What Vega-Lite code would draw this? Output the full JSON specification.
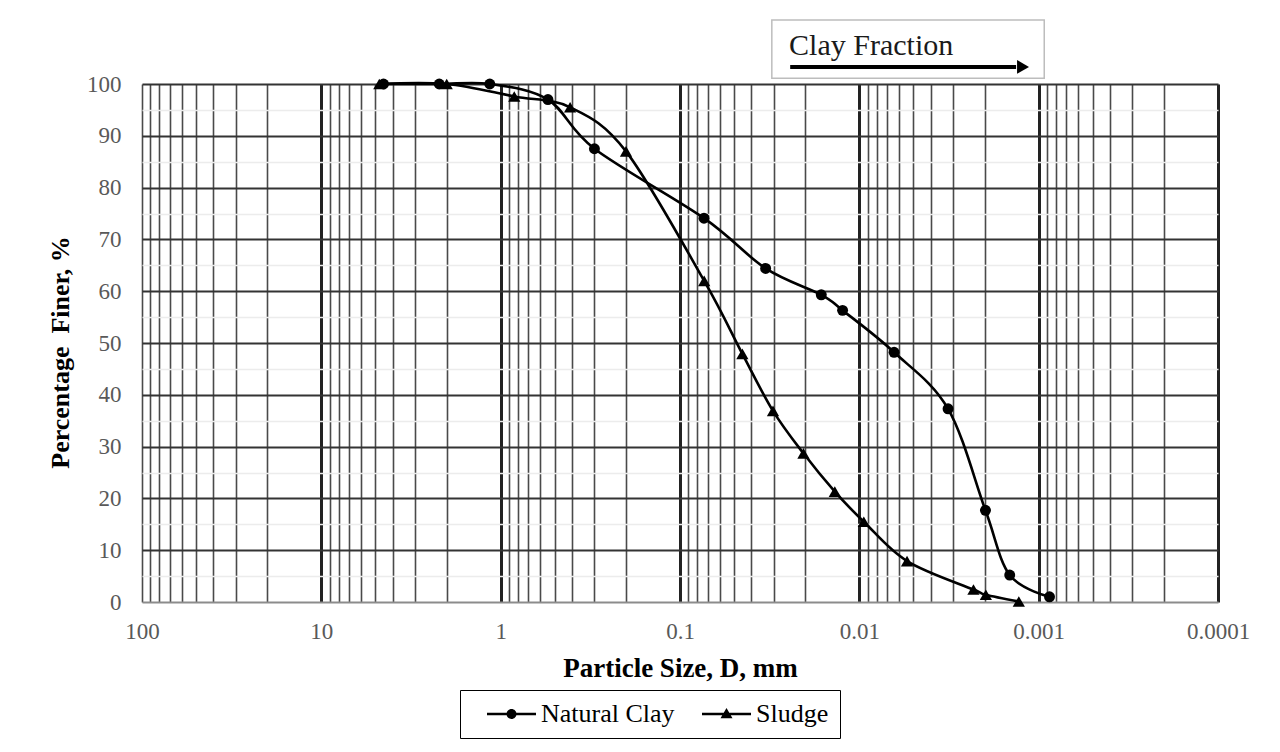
{
  "$schema": "https://vega.github.io/schema/vega-lite/v6.json",
  "width": 1076,
  "height": 518,
  "autosize": {"type": "none"},
  "padding": {"left": 142, "top": 84, "right": 62, "bottom": 150},
  "background": "white",
  "config": {
    "view": {"stroke": null},
    "font": "Liberation Serif"
  },
  "datasets": {
    "gsd": [
      {"series": "Natural Clay", "size": 4.5, "finer": 100},
      {"series": "Natural Clay", "size": 2.2, "finer": 100},
      {"series": "Natural Clay", "size": 1.15, "finer": 100},
      {"series": "Natural Clay", "size": 0.545, "finer": 97},
      {"series": "Natural Clay", "size": 0.3, "finer": 87.5},
      {"series": "Natural Clay", "size": 0.0735, "finer": 74.1},
      {"series": "Natural Clay", "size": 0.0333, "finer": 64.4},
      {"series": "Natural Clay", "size": 0.0163, "finer": 59.3},
      {"series": "Natural Clay", "size": 0.0124, "finer": 56.3},
      {"series": "Natural Clay", "size": 0.0064, "finer": 48.2},
      {"series": "Natural Clay", "size": 0.0032, "finer": 37.3},
      {"series": "Natural Clay", "size": 0.00198, "finer": 17.7},
      {"series": "Natural Clay", "size": 0.00145, "finer": 5.2},
      {"series": "Natural Clay", "size": 0.00087, "finer": 1.0},
      {"series": "Sludge", "size": 4.75, "finer": 100},
      {"series": "Sludge", "size": 2.0, "finer": 100},
      {"series": "Sludge", "size": 0.84, "finer": 97.6},
      {"series": "Sludge", "size": 0.41, "finer": 95.5},
      {"series": "Sludge", "size": 0.2, "finer": 87},
      {"series": "Sludge", "size": 0.0733, "finer": 62},
      {"series": "Sludge", "size": 0.0449, "finer": 47.9},
      {"series": "Sludge", "size": 0.0303, "finer": 36.9},
      {"series": "Sludge", "size": 0.0205, "finer": 28.7},
      {"series": "Sludge", "size": 0.0137, "finer": 21.3},
      {"series": "Sludge", "size": 0.00944, "finer": 15.5},
      {"series": "Sludge", "size": 0.00542, "finer": 7.9},
      {"series": "Sludge", "size": 0.00231, "finer": 2.4},
      {"series": "Sludge", "size": 0.00197, "finer": 1.4},
      {"series": "Sludge", "size": 0.00129, "finer": 0.1}
    ],
    "note": [
      {"label": "Clay Fraction", "size": 0.02464, "finer": 105.6, "boxSize1": 0.03076, "boxSize2": 0.000931, "boxTop": 112.36, "boxBottom": 101.1, "arrowStart": 0.0243, "arrowEnd": 0.001336, "arrowHead": 0.001222, "arrowLevel": 103.3}
    ],
    "legendOnly": []
  },
  "encoding": {
    "x": {
      "field": "size",
      "type": "quantitative",
      "scale": {"type": "log", "domain": [0.0001, 100], "reverse": true, "nice": false},
      "axis": {
        "title": "Particle Size, D, mm",
        "titleFont": "Liberation Serif",
        "titleFontSize": 27,
        "titleFontWeight": "bold",
        "titleColor": "black",
        "titlePadding": 12,
        "values": [0.0001, 0.0002, 0.0003, 0.0004, 0.0005, 0.0006, 0.0007, 0.0008, 0.0009, 0.001, 0.002, 0.003, 0.004, 0.005, 0.006, 0.007, 0.008, 0.009, 0.01, 0.02, 0.03, 0.04, 0.05, 0.06, 0.07, 0.08, 0.09, 0.1, 0.2, 0.3, 0.4, 0.5, 0.6, 0.7, 0.8, 0.9, 1, 2, 3, 4, 5, 6, 7, 8, 9, 10, 20, 30, 40, 50, 60, 70, 80, 90, 100],
        "labelExpr": "abs(log(datum.value)/LN10 - round(log(datum.value)/LN10)) < 0.001 ? format(datum.value, '~g') : ''",
        "labelFont": "Liberation Serif",
        "labelFontSize": 23,
        "labelColor": "#595959",
        "labelPadding": 18,
        "labelOverlap": false,
        "labelFlush": false,
        "ticks": false,
        "domain": false,
        "grid": true,
        "gridColor": {"condition": {"test": "abs(log(datum.value)/LN10 - round(log(datum.value)/LN10)) < 0.001 && datum.value < 50", "value": "#222222"}, "value": "#4a4a4a"},
        "gridWidth": {"condition": {"test": "abs(log(datum.value)/LN10 - round(log(datum.value)/LN10)) < 0.001 && datum.value < 50", "value": 3}, "value": 1.6},
        "gridOpacity": 1
      }
    },
    "y": {
      "field": "finer",
      "type": "quantitative",
      "scale": {"domain": [0, 100], "nice": false, "zero": true},
      "axis": {
        "title": "Percentage\u00a0 Finer, %",
        "titleFont": "Liberation Serif",
        "titleFontSize": 26,
        "titleFontWeight": "bold",
        "titleColor": "black",
        "titlePadding": 13,
        "titleY": 268,
        "values": [0, 5, 10, 15, 20, 25, 30, 35, 40, 45, 50, 55, 60, 65, 70, 75, 80, 85, 90, 95, 100],
        "labelExpr": "datum.value % 10 == 0 ? datum.label : ''",
        "labelFont": "Liberation Serif",
        "labelFontSize": 23,
        "labelColor": "#595959",
        "labelPadding": 21,
        "labelOverlap": false,
        "labelFlush": false,
        "ticks": false,
        "domain": false,
        "grid": true,
        "gridColor": {"condition": [{"test": "datum.value % 10 != 0", "value": "#ececec"}, {"test": "datum.value == 0", "value": "#8c8c8c"}], "value": "#333333"},
        "gridWidth": {"condition": {"test": "datum.value % 10 != 0", "value": 1.5}, "value": 2},
        "gridOpacity": 1
      }
    }
  },
  "resolve": {"scale": {"shape": "independent", "size": "independent"}, "legend": {"shape": "independent"}},
  "layer": [
    {
      "data": {"name": "gsd"},
      "mark": {"type": "line", "interpolate": "cardinal", "color": "black", "strokeWidth": 2.6},
      "encoding": {"detail": {"field": "series"}}
    },
    {
      "data": {"name": "gsd"},
      "mark": {"type": "point", "filled": true, "color": "black", "opacity": 1},
      "encoding": {
        "shape": {
          "field": "series",
          "type": "nominal",
          "scale": {"domain": ["Natural Clay", "Sludge"], "range": ["circle", "triangle-up"]},
          "legend": null
        },
        "size": {
          "field": "series",
          "type": "nominal",
          "scale": {"domain": ["Natural Clay", "Sludge"], "range": [120, 150]},
          "legend": null
        }
      }
    },
    {
      "data": {"name": "legendOnly"},
      "mark": {"type": "point", "filled": true, "color": "black", "opacity": 1},
      "encoding": {
        "shape": {
          "field": "series",
          "type": "nominal",
          "scale": {
            "domain": ["Natural Clay", "Sludge"],
            "range": [
              "M0.3,-0.13H5.2V0.13H0.3ZM2.25,0A0.5,0.5,0,1,1,3.25,0A0.5,0.5,0,1,1,2.25,0Z",
              "M0.3,-0.13H5.2V0.13H0.3ZM2.75,-0.6L3.35,0.42L2.15,0.42Z"
            ]
          },
          "legend": {
            "title": null,
            "orient": "none",
            "legendX": 318,
            "legendY": 606,
            "direction": "horizontal",
            "padding": 11,
            "strokeColor": "black",
            "symbolSize": 400,
            "symbolFillColor": "black",
            "symbolOpacity": 1,
            "labelFont": "Liberation Serif",
            "labelFontSize": 26,
            "labelColor": "black",
            "labelOffset": 44,
            "columnPadding": 11
          }
        }
      }
    },
    {
      "data": {"name": "note"},
      "mark": {"type": "rect", "fill": "white", "stroke": "#bdbdbd", "strokeWidth": 1.5},
      "encoding": {
        "x": {"field": "boxSize1", "type": "quantitative"},
        "x2": {"field": "boxSize2"},
        "y": {"field": "boxTop", "type": "quantitative"},
        "y2": {"field": "boxBottom"}
      }
    },
    {
      "data": {"name": "note"},
      "mark": {"type": "rule", "color": "black", "strokeWidth": 4},
      "encoding": {
        "x": {"field": "arrowStart", "type": "quantitative"},
        "x2": {"field": "arrowEnd"},
        "y": {"field": "arrowLevel", "type": "quantitative"}
      }
    },
    {
      "data": {"name": "note"},
      "mark": {"type": "point", "shape": "triangle-right", "filled": true, "color": "black", "opacity": 1, "size": 190},
      "encoding": {
        "x": {"field": "arrowHead", "type": "quantitative"},
        "y": {"field": "arrowLevel", "type": "quantitative"}
      }
    },
    {
      "data": {"name": "note"},
      "mark": {"type": "text", "align": "left", "baseline": "alphabetic", "font": "Liberation Serif", "fontSize": 30, "color": "#1a1a1a"},
      "encoding": {
        "text": {"field": "label"}
      }
    }
  ]
}
